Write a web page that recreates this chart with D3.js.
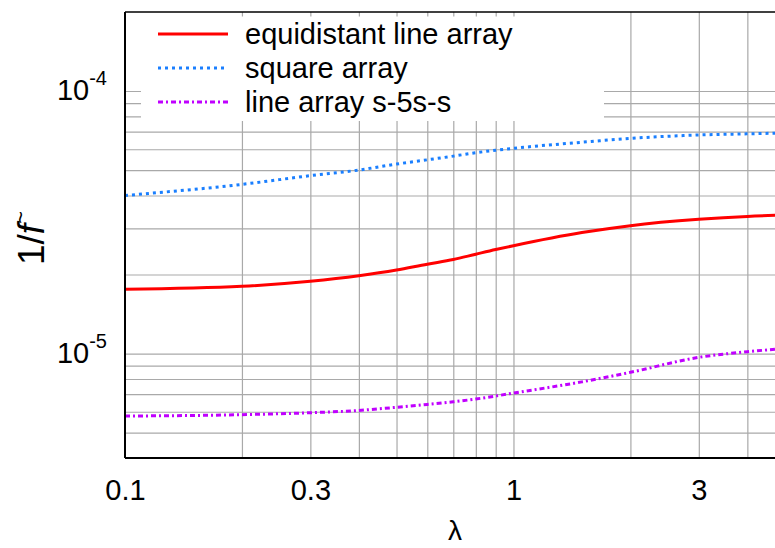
<!DOCTYPE html>
<html>
<head>
<meta charset="utf-8">
<script src="https://cdn.jsdelivr.net/npm/d3@7"></script>
<style>
  html, body { margin: 0; padding: 0; background: #fff; }
  svg { display: block; font-family: "Liberation Sans", Arial, sans-serif; }
</style>
</head>
<body>
<svg id="chart" width="775" height="548"></svg>
<script>
// sampled wavelength parameter
const lambda = [0.1, 0.2, 0.3, 0.4, 0.5, 0.6, 0.7, 0.8, 0.9, 1, 1.5, 2, 3, 4, 5];

// 1/f~ for each configuration
const equidistantLine = [1.757e-5, 1.803e-5, 1.884e-5, 1.978e-5, 2.08e-5, 2.19e-5, 2.28e-5, 2.39e-5, 2.49e-5, 2.575e-5, 2.89e-5, 3.07e-5, 3.245e-5, 3.33e-5, 3.37e-5];
const squareArray     = [4.0e-5, 4.41e-5, 4.76e-5, 5.0e-5, 5.27e-5, 5.47e-5, 5.65e-5, 5.82e-5, 5.95e-5, 6.05e-5, 6.38e-5, 6.6e-5, 6.8e-5, 6.87e-5, 6.92e-5];
const lineS5sS        = [5.78e-6, 5.85e-6, 5.95e-6, 6.07e-6, 6.24e-6, 6.4e-6, 6.55e-6, 6.71e-6, 6.89e-6, 7.07e-6, 7.8e-6, 8.48e-6, 9.67e-6, 1.016e-5, 1.045e-5];

const seriesNames = ["equidistant line array", "square array", "line array s-5s-s"];

// axis ticks and grid
const xTickLabels = [0.1, 0.3, 1, 3];
const xGrid = [0.2, 0.3, 0.4, 0.5, 0.6, 0.7, 0.8, 0.9, 1, 2, 3, 4, 5];
const yTickLabels = [1e-4, 1e-5];
const yGrid = [5e-6, 6e-6, 7e-6, 8e-6, 9e-6, 1e-5, 2e-5, 3e-5, 4e-5, 5e-5, 6e-5, 7e-5, 8e-5, 9e-5, 1e-4];

const svg = d3.select("#chart");
const plotLeft = 125, plotRight = 785, plotTop = 12, plotBottom = 458;

const x = d3.scaleLog().domain([0.1, 5]).range([plotLeft, plotRight]);
const y = d3.scaleLog().domain([4e-6, 2e-4]).range([plotBottom, plotTop]);

const gridColor = "#a9a9a9";

// grid lines
const gridV = svg.append("g").attr("transform", `translate(0,${plotBottom})`)
  .call(d3.axisBottom(x).tickValues(xGrid).tickSize(-(plotBottom - plotTop)).tickFormat(""));
gridV.select(".domain").remove();
gridV.selectAll("line").attr("stroke", gridColor).attr("stroke-width", 1.2);

const gridH = svg.append("g").attr("transform", `translate(${plotLeft},0)`)
  .call(d3.axisLeft(y).tickValues(yGrid).tickSize(-(plotRight - plotLeft)).tickFormat(""));
gridH.select(".domain").remove();
gridH.selectAll("line").attr("stroke", gridColor).attr("stroke-width", 1.2);

// curves
const styles = [
  { data: equidistantLine, color: "#ff0000", dash: null },
  { data: squareArray,     color: "#1a7fff", dash: "3,4" },
  { data: lineS5sS,        color: "#c000ff", dash: "5,3,2,3" }
];

const line = d3.line()
  .x(d => x(d[0]))
  .y(d => y(d[1]))
  .curve(d3.curveMonotoneX);

styles.forEach(s => {
  svg.append("path")
    .datum(lambda.map((l, i) => [l, s.data[i]]))
    .attr("fill", "none")
    .attr("stroke", s.color)
    .attr("stroke-width", 3)
    .attr("stroke-dasharray", s.dash)
    .attr("d", line);
});

// frame
svg.append("line").attr("x1", plotLeft).attr("x2", 775).attr("y1", plotTop).attr("y2", plotTop)
  .attr("stroke", "#000").attr("stroke-width", 1.5);
svg.append("line").attr("x1", plotLeft).attr("x2", 775).attr("y1", plotBottom).attr("y2", plotBottom)
  .attr("stroke", "#000").attr("stroke-width", 1.8);
svg.append("line").attr("x1", plotLeft).attr("x2", plotLeft).attr("y1", plotTop).attr("y2", plotBottom)
  .attr("stroke", "#000").attr("stroke-width", 2);

// legend
svg.append("rect").attr("x", 141).attr("y", 16.5).attr("width", 463).attr("height", 104.5)
  .attr("fill", "#fff");
const legendY = [34, 68, 102];
styles.forEach((s, i) => {
  svg.append("line")
    .attr("x1", 158).attr("x2", 228)
    .attr("y1", legendY[i]).attr("y2", legendY[i])
    .attr("stroke", s.color).attr("stroke-width", 3)
    .attr("stroke-dasharray", s.dash);
  svg.append("text")
    .attr("x", 245).attr("y", legendY[i]).attr("dy", "0.35em")
    .attr("font-size", 29).attr("fill", "#000")
    .text(seriesNames[i]);
});

// x axis labels
const xAxis = svg.append("g").attr("transform", `translate(0,${plotBottom})`)
  .call(d3.axisBottom(x).tickValues(xTickLabels).tickSize(0).tickPadding(21)
    .tickFormat(d3.format("")));
xAxis.select(".domain").remove();
xAxis.selectAll("text").attr("font-size", 29).attr("fill", "#000")
  .attr("font-family", "Liberation Sans, Arial, sans-serif");

// y axis labels as powers of ten
const yAxis = svg.append("g").attr("transform", `translate(${plotLeft},0)`)
  .call(d3.axisLeft(y).tickValues(yTickLabels).tickSize(0).tickPadding(18).tickFormat(""));
yAxis.select(".domain").remove();
yAxis.selectAll(".tick text").each(function(d) {
  const t = d3.select(this)
    .attr("font-size", 29).attr("fill", "#000")
    .attr("font-family", "Liberation Sans, Arial, sans-serif")
    .attr("dy", "0.3em");
  t.append("tspan").text("10");
  t.append("tspan").attr("font-size", 20).attr("dy", "-0.75em")
    .text(Math.round(Math.log10(d)));
});

// axis titles
svg.append("text")
  .attr("x", 455).attr("y", 540)
  .attr("text-anchor", "middle")
  .attr("font-size", 28)
  .text("λ");

const yTitle = svg.append("text")
  .attr("transform", "translate(44,238) rotate(-90)")
  .attr("text-anchor", "middle")
  .attr("font-size", 37);
yTitle.append("tspan").text("1/");
yTitle.append("tspan").attr("font-style", "italic").text("f");
yTitle.append("tspan").attr("font-size", 22).attr("dy", "-0.75em").text("~");
</script>
</body>
</html>
